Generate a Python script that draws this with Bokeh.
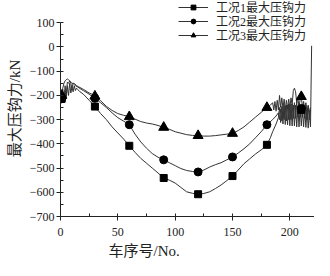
from bokeh.plotting import figure
from bokeh.models import Legend, LegendItem, CustomJSTickFormatter, Range1d, SingleIntervalTicker, Title
from bokeh.embed import file_html
from bokeh.resources import INLINE

# ---- data ----
x1 = [0, 1, 2, 3, 4, 5, 6, 7, 8, 9, 10, 11, 12, 13, 14, 15, 17, 20, 25, 30,
      35, 40, 45, 50, 55, 60, 65, 70, 75, 80, 85, 90, 95, 100, 105, 110, 115, 120,
      125, 130, 135, 140, 145, 150, 155, 160, 165, 170, 175, 180, 183, 185, 188, 190,
      191, 192, 193, 194, 195, 196, 197, 198, 199, 200, 201, 202, 203, 204, 205, 206,
      207, 208, 209, 210, 211, 212, 213, 214, 215, 216, 217, 218, 219]
y1 = [-225, -214, -190, -230, -180, -215, -160, -200, -150, -190, -165, -185, -160, -180, -170, -175, -185, -195, -220, -246,
      -275, -300, -330, -355, -380, -408, -435, -460, -480, -500, -520, -541, -550, -562, -580, -598, -604, -608,
      -605, -598, -585, -570, -552, -533, -508, -482, -462, -442, -425, -404, -375, -350, -318, -292,
      -250, -312, -245, -318, -240, -320, -240, -322, -235, -325, -235, -326, -240, -326, -240, -330,
      -245, -330, -250, -326, -255, -330, -255, -332, -260, -335, -270, -330, 5]

x2 = [0, 1, 2, 3, 4, 5, 6, 7, 8, 9, 10, 11, 12, 13, 15, 18, 20, 25, 30,
      35, 40, 45, 50, 55, 60, 65, 70, 75, 80, 85, 90, 95, 100, 105, 110, 115, 120,
      125, 130, 135, 140, 145, 150, 155, 160, 165, 170, 175, 180, 185, 188, 190,
      191, 192, 193, 194, 195, 196, 197, 198, 199, 200, 201, 202, 203, 204, 205, 206,
      207, 208, 209, 210, 211, 212, 213, 214, 215, 216, 217, 218]
y2 = [-214, -214, -175, -220, -160, -200, -145, -150, -140, -150, -170, -150, -155, -160, -165, -175, -180, -195, -212,
      -230, -250, -272, -292, -306, -321, -360, -392, -418, -440, -455, -466, -478, -490, -502, -510, -514, -516,
      -508, -496, -486, -478, -466, -454, -438, -420, -400, -375, -350, -321, -300, -285, -272,
      -300, -255, -305, -250, -300, -245, -305, -240, -300, -240, -300, -235, -295, -230, -295, -225,
      -290, -230, -290, -254, -290, -235, -295, -240, -300, -245, -300, -260]

x3 = [0, 1, 2, 3, 4, 5, 6, 7, 8, 10, 12, 14, 16, 20, 25, 30,
      35, 40, 45, 50, 55, 60, 65, 70, 75, 80, 85, 90, 95, 100, 105, 110, 115, 120,
      125, 130, 135, 140, 145, 150, 155, 160, 165, 170, 175, 180, 183, 185, 186, 187, 188, 189,
      190, 191, 192, 193, 194, 195, 196, 197, 198, 199, 200, 201, 202, 203, 204, 205, 206,
      207, 208, 209, 210, 211, 212, 213, 214, 215, 216, 217, 218]
y3 = [-200, -195, -170, -150, -140, -135, -132, -135, -140, -150, -150, -160, -165, -175, -190, -200,
      -222, -245, -262, -275, -282, -288, -298, -308, -314, -318, -324, -332, -340, -350, -356, -362, -365, -366,
      -368, -368, -366, -363, -360, -357, -345, -330, -310, -290, -270, -250, -240, -230, -260, -225, -265, -220,
      -260, -200, -250, -210, -255, -215, -260, -220, -255, -215, -250, -210, -240, -180, -170, -185, -230,
      -210, -250, -215, -205, -250, -225, -260, -230, -270, -240, -270, -250]

mx = [1, 30, 60, 90, 120, 150, 180, 210]
m1 = [-214, -246, -408, -541, -608, -533, -404, -260]
m2 = [-214, -212, -321, -466, -516, -454, -321, -254]
m3 = [-200, -203, -288, -332, -366, -357, -250, -205]

labels = ["工况1最大压钩力", "工况2最大压钩力", "工况3最大压钩力"]
x_title = "车序号/No."
y_title = "最大压钩力/kN"

serif = "Liberation Serif"
mixed = "'Liberation Serif', 'Noto Sans CJK SC'"
ink = "#222222"

W, H = 314, 260
LEFT, BOTTOM = 60, 44
FRAME_H = H - BOTTOM

p = figure(width=W, height=H, output_backend="svg", toolbar_location=None,
           x_range=Range1d(0, 221.5), y_range=Range1d(-700, 192),
           min_border_left=LEFT, min_border_right=0, min_border_top=0, min_border_bottom=BOTTOM)
p.outline_line_color = None
p.grid.visible = False
p.background_fill_color = "white"

p.yaxis.bounds = (-700, 100)
p.yaxis.ticker = SingleIntervalTicker(interval=100, num_minor_ticks=2)
p.xaxis.ticker = SingleIntervalTicker(interval=50, num_minor_ticks=2)
p.yaxis.formatter = CustomJSTickFormatter(code="return tick < 0 ? '\u2212' + Math.abs(tick) : String(tick);")

for ax in (p.xaxis[0], p.yaxis[0]):
    ax.axis_line_color = ink
    ax.major_tick_line_color = ink
    ax.minor_tick_line_color = ink
    ax.major_tick_out = 4
    ax.major_tick_in = 0
    ax.minor_tick_out = 0
    ax.minor_tick_in = 3
    ax.major_label_text_font = serif
    ax.major_label_text_font_size = "12px"
    ax.major_label_text_color = ink
    ax.major_label_standoff = 2

p.xaxis.major_label_standoff = 7
p.yaxis.axis_label = y_title
p.yaxis.axis_label_text_font = mixed
p.yaxis.axis_label_text_font_size = "15px"
p.yaxis.axis_label_text_font_style = "normal"
p.yaxis.axis_label_text_color = ink
p.yaxis.axis_label_standoff = 4

# x-axis title below the axis, left of centre as in the reference
xt = Title(text=x_title, align="left", offset=48, standoff=4,
           text_font=mixed, text_font_size="15px", text_font_style="normal", text_color=ink)
p.add_layout(xt, "below")

lc = "#333333"
l1 = p.line(x1, y1, line_color=lc, line_width=1)
l2 = p.line(x2, y2, line_color=lc, line_width=1)
l3 = p.line(x3, y3, line_color=lc, line_width=1)
s1 = p.scatter(mx, m1, marker="square", size=7, fill_color="black", line_color="black")
s2 = p.scatter(mx, m2, marker="circle", size=8, fill_color="black", line_color="black")
s3 = p.scatter(mx, m3, marker="triangle", size=10, fill_color="black", line_color="black")

pairs = [(l1, s1), (l2, s2), (l3, s3)]
row_centres = [9, 23, 37]
for i, (ln, sc) in enumerate(pairs):
    lg = Legend(items=[LegendItem(label=labels[i], renderers=[ln, sc])],
                location=(118, FRAME_H - row_centres[i] - 7))
    lg.background_fill_alpha = 0
    lg.border_line_color = None
    lg.label_text_font = mixed
    lg.label_text_font_size = "12px"
    lg.label_text_color = ink
    lg.glyph_width = 30
    lg.glyph_height = 12
    lg.label_height = 12
    lg.padding = 0
    lg.margin = 0
    lg.label_standoff = 8
    p.add_layout(lg)

open("out.html", "w").write(file_html(p, INLINE))
